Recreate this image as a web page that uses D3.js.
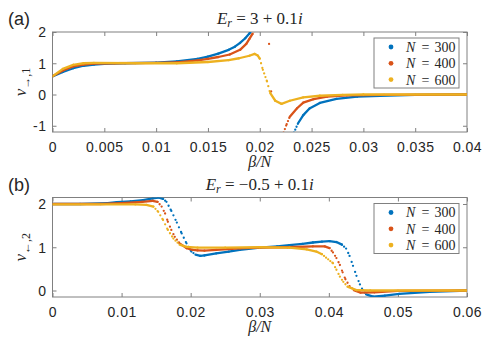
<!DOCTYPE html>
<html>
<head>
<meta charset="utf-8">
<script src="https://cdn.jsdelivr.net/npm/d3@7"></script>
<style>
  body { margin: 0; background: #fff; }
  text { fill: #262626; }
</style>
</head>
<body>
<div id="chart"></div>
<script>
// legend entries and MATLAB default colours
const nValues = [300, 400, 600];
const colors = ['#0072BD', '#D95319', '#EDB120'];

// panel (a): E_r = 3 + 0.1i
const topXTicks = [0, 0.005, 0.01, 0.015, 0.02, 0.025, 0.03, 0.035, 0.04];
const topYTicks = [-1, 0, 1, 2];
// null = break in the series (curve leaves the plot)
const topN300 = [[0,0.58],[0.001,0.72],[0.002,0.84],[0.003,0.92],[0.004,0.96],[0.005,0.98],[0.007,1.0],[0.01,1.02],
  [0.012,1.06],[0.014,1.14],[0.015,1.21],[0.016,1.31],[0.017,1.43],[0.0176,1.53],[0.0181,1.65],[0.0186,1.8],
  [0.019,1.95],[0.0194,2.15],null,
  [0.0233,-1.22],[0.0237,-0.92],[0.0242,-0.66],[0.0248,-0.45],[0.0258,-0.27],[0.0274,-0.14],[0.0294,-0.07],
  [0.0316,-0.04],[0.035,-0.01],[0.04,0]];
const topN400 = [[0,0.58],[0.001,0.77],[0.002,0.9],[0.003,0.96],[0.004,0.99],[0.006,1.0],[0.01,1.01],[0.012,1.03],
  [0.014,1.09],[0.015,1.14],[0.016,1.2],[0.0171,1.28],[0.0181,1.43],[0.0187,1.62],[0.019,1.78],[0.0193,1.94],
  [0.0196,2.15],null,[0.0209,1.62],null,[0.0211,0.10],null,
  [0.0223,-1.22],[0.0226,-0.95],[0.0229,-0.71],[0.0236,-0.44],[0.0242,-0.26],[0.0252,-0.15],[0.0265,-0.07],
  [0.0284,-0.03],[0.032,-0.01],[0.04,0]];
const topN600 = [[0,0.58],[0.001,0.82],[0.002,0.95],[0.003,1.0],[0.004,1.01],[0.008,1.0],[0.012,1.0],[0.015,1.04],
  [0.017,1.1],[0.018,1.16],[0.019,1.24],[0.0195,1.3],[0.0198,1.25],[0.02,1.15],[0.0203,0.79],[0.0207,0.42],
  [0.021,0.05],[0.0215,-0.2],[0.0221,-0.3],[0.0229,-0.2],[0.0242,-0.09],[0.0258,-0.04],[0.028,-0.01],[0.03,0],[0.04,0]];

// panel (b): E_r = -0.5 + 0.1i
const botXTicks = [0, 0.01, 0.02, 0.03, 0.04, 0.05, 0.06];
const botYTicks = [0, 1, 2];
const botN300 = [[0,2.0],[0.004,2.0],[0.008,2.02],[0.0093,2.04],[0.0113,2.06],[0.0131,2.09],[0.0145,2.13],[0.0153,2.15],
  [0.016,2.12],[0.0165,2.05],[0.0172,1.84],[0.018,1.57],[0.0187,1.32],[0.0194,1.09],[0.0201,0.9],[0.0207,0.83],
  [0.0214,0.8],[0.022,0.81],[0.0237,0.86],[0.0255,0.9],[0.0271,0.94],[0.03,0.99],[0.0325,1.02],[0.0343,1.05],
  [0.0362,1.08],[0.0377,1.11],[0.039,1.13],[0.0401,1.14],[0.0411,1.12],[0.0419,1.06],[0.0425,0.97],[0.043,0.8],
  [0.0435,0.57],[0.044,0.34],[0.0445,0.14],[0.0449,0.01],[0.0454,-0.09],[0.0464,-0.14],[0.0481,-0.12],
  [0.0502,-0.08],[0.0546,-0.03],[0.06,0]];
const botN400 = [[0,2.0],[0.007,2.0],[0.01,2.02],[0.013,2.05],[0.0145,2.07],[0.0152,2.05],[0.0158,1.94],[0.0163,1.78],
  [0.0167,1.59],[0.0172,1.4],[0.0177,1.24],[0.0184,1.09],[0.0194,0.98],[0.0203,0.94],[0.021,0.93],[0.022,0.92],
  [0.0237,0.94],[0.0271,0.975],[0.03,0.99],[0.034,1.0],[0.0377,1.02],[0.0394,1.02],[0.0401,0.98],[0.0406,0.88],
  [0.0411,0.75],[0.0416,0.59],[0.042,0.42],[0.0424,0.26],[0.043,0.1],[0.0437,0],[0.0446,-0.05],[0.0466,-0.04],
  [0.05,-0.01],[0.06,0]];
const botN600 = [[0,1.99],[0.012,1.99],[0.0136,1.98],[0.0146,1.94],[0.0153,1.82],[0.016,1.63],[0.0167,1.4],[0.0175,1.2],
  [0.0184,1.06],[0.0194,1.01],[0.021,0.99],[0.025,0.99],[0.03,1.0],[0.0343,0.99],[0.0368,0.95],[0.0382,0.9],
  [0.039,0.84],[0.0396,0.76],[0.0406,0.63],[0.0411,0.48],[0.0416,0.32],[0.0421,0.2],[0.0427,0.09],[0.044,0.01],
  [0.046,0],[0.06,0]];

const width = 498, height = 348;
const left = 52.5, right = 467;
const axisColor = '#808080';
const sans = '"Liberation Sans", Arial, sans-serif';
const serif = '"Liberation Serif", "Times New Roman", serif';

const svg = d3.select('#chart').append('svg')
  .attr('width', width)
  .attr('height', height)
  .style('font-family', sans);

function drawPanel(opt) {
  const x = d3.scaleLinear().domain(opt.xDomain).range([left, right]);
  const y = d3.scaleLinear().domain(opt.yDomain).range([opt.bottom, opt.top]);
  const g = svg.append('g');
  const fmt = d => String(d);

  g.append('clipPath').attr('id', opt.id)
    .append('rect')
    .attr('x', left).attr('y', opt.top)
    .attr('width', right - left).attr('height', opt.bottom - opt.top);

  // ticks on all four sides, pointing inwards
  const axes = [
    [d3.axisBottom(x).tickValues(opt.xTicks).tickFormat(fmt), `translate(0,${opt.bottom})`],
    [d3.axisTop(x).tickValues(opt.xTicks).tickFormat(''), `translate(0,${opt.top})`],
    [d3.axisLeft(y).tickValues(opt.yTicks).tickFormat(fmt), `translate(${left},0)`],
    [d3.axisRight(y).tickValues(opt.yTicks).tickFormat(''), `translate(${right},0)`]
  ];
  const axisG = axes.map(([ax, tr]) => {
    const a = g.append('g').attr('transform', tr)
      .call(ax.tickSizeInner(-4).tickSizeOuter(0));
    a.select('.domain').remove();
    a.selectAll('line').attr('stroke', axisColor);
    a.selectAll('text')
      .style('font-family', sans)
      .style('font-size', '14px')
      .style('letter-spacing', '0.5px')
      .attr('fill', '#262626');
    return a;
  });
  axisG[0].selectAll('.tick text').attr('y', 0).attr('dy', '1.4em');
  axisG[2].selectAll('.tick text').attr('x', -6).attr('dy', '0.35em');

  g.append('rect')
    .attr('x', left).attr('y', opt.top)
    .attr('width', right - left).attr('height', opt.bottom - opt.top)
    .attr('fill', 'none').attr('stroke', axisColor).attr('stroke-width', 1);

  // series: straight pieces, dotted where the sampled points spread apart
  const plot = g.append('g').attr('clip-path', `url(#${opt.id})`);
  opt.series.forEach((pts, k) => {
    const segs = d3.pairs(pts).filter(([a, b]) => a && b);
    plot.append('g').selectAll('line')
      .data(segs)
      .join('line')
      .attr('x1', d => x(d[0][0])).attr('y1', d => y(d[0][1]))
      .attr('x2', d => x(d[1][0])).attr('y2', d => y(d[1][1]))
      .attr('stroke', colors[k])
      .attr('stroke-width', 2.3)
      .attr('stroke-linecap', 'round')
      .attr('stroke-dasharray', d => {
        const dx = Math.abs(x(d[1][0]) - x(d[0][0]));
        const dy = Math.abs(y(d[1][1]) - y(d[0][1]));
        const s = dx > 0 ? dy / dx : 99;
        const gap = opt.step * Math.sqrt(1 + s * s);
        return gap < 2.6 ? null : `0 ${gap}`;
      });
    const lone = pts.filter((p, i) => p && !pts[i - 1] && !pts[i + 1]);
    plot.append('g').selectAll('circle')
      .data(lone)
      .join('circle')
      .attr('cx', d => x(d[0])).attr('cy', d => y(d[1]))
      .attr('r', 1.15).attr('fill', colors[k]);
  });

  // title
  const t = g.append('text')
    .attr('x', (left + right) / 2).attr('y', opt.top - 8)
    .attr('text-anchor', 'middle')
    .style('font-family', serif)
    .style('font-size', '17px');
  t.append('tspan').style('font-style', 'italic').text('E');
  t.append('tspan').style('font-style', 'italic').style('font-size', '12px').attr('dy', 3).text('r');
  t.append('tspan').attr('dy', -3).text(opt.titleRest);
  t.append('tspan').style('font-style', 'italic').text('i');

  // panel letter
  g.append('text')
    .attr('x', 8).attr('y', opt.top - 7)
    .style('font-size', '18px')
    .text(opt.letter);

  // x label
  g.append('text')
    .attr('x', (left + right) / 2).attr('y', opt.bottom + 35)
    .attr('text-anchor', 'middle')
    .style('font-family', serif)
    .style('font-style', 'italic')
    .style('font-size', '16px')
    .text('β/N');

  // y label
  const yl = g.append('text')
    .attr('transform', `translate(26,${(opt.top + opt.bottom) / 2}) rotate(-90)`)
    .attr('text-anchor', 'middle')
    .style('font-family', serif)
    .style('font-size', '17px');
  yl.append('tspan').style('font-style', 'italic').text('ν');
  yl.append('tspan').style('font-size', '12px').attr('dy', 4).text(opt.ySub);

  // legend
  const lg = g.append('g').attr('transform', `translate(374,${opt.top + 6})`);
  lg.append('rect')
    .attr('width', 85).attr('height', 50)
    .attr('fill', '#fff').attr('stroke', axisColor).attr('stroke-width', 1);
  const rows = lg.selectAll('g.row')
    .data(nValues)
    .join('g').attr('class', 'row')
    .attr('transform', (d, i) => `translate(0,${9 + i * 16.3})`);
  rows.append('circle')
    .attr('cx', 17).attr('cy', 0).attr('r', 2.4)
    .attr('fill', (d, i) => colors[i]);
  const legText = (xPos, txt, italic) => rows.append('text')
    .attr('x', xPos).attr('dy', '0.35em')
    .style('font-family', serif)
    .style('font-size', '14px')
    .style('font-style', italic ? 'italic' : 'normal')
    .text(txt);
  legText(32, 'N', true);
  legText(47.5, '=', false);
  legText(60.5, d => d, false);
}

drawPanel({
  id: 'clipA', letter: '(a)', top: 32, bottom: 132,
  xDomain: [0, 0.04], yDomain: [-1.2, 2],
  xTicks: topXTicks, yTicks: topYTicks,
  series: [topN300, topN400, topN600],
  step: 1.3,
  titleRest: ' = 3 + 0.1', ySub: '\u2192,1'
});

drawPanel({
  id: 'clipB', letter: '(b)', top: 197.5, bottom: 297,
  xDomain: [0, 0.06], yDomain: [-0.15, 2.15],
  xTicks: botXTicks, yTicks: botYTicks,
  series: [botN300, botN400, botN600],
  step: 2.1,
  titleRest: ' = \u22120.5 + 0.1', ySub: '\u2190,2'
});
</script>
</body>
</html>
